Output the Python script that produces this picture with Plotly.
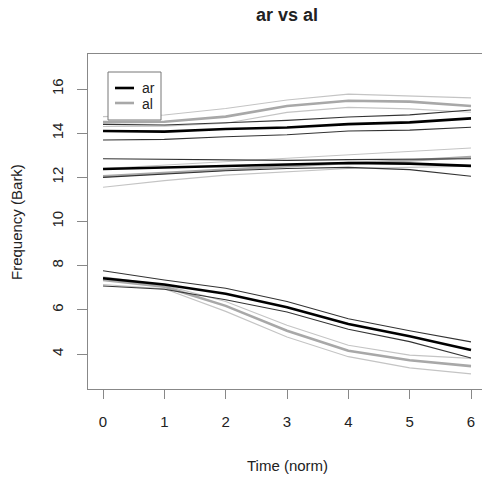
import plotly.graph_objects as go

# ---- data ----
time_norm = [0, 1, 2, 3, 4, 5, 6]

# ar (black): formant tracks, mean and upper/lower bands
ar_f1_mean = [7.43, 7.15, 6.73, 6.12, 5.36, 4.80, 4.18]
ar_f1_up = [7.77, 7.35, 6.98, 6.38, 5.60, 5.05, 4.55]
ar_f1_lo = [7.08, 6.93, 6.46, 5.90, 5.12, 4.56, 3.82]
ar_f2_mean = [12.38, 12.45, 12.52, 12.60, 12.65, 12.62, 12.52]
ar_f2_up = [12.84, 12.81, 12.78, 12.77, 12.80, 12.82, 12.84]
ar_f2_lo = [12.00, 12.15, 12.30, 12.40, 12.45, 12.35, 12.05]
ar_f3_mean = [14.10, 14.07, 14.19, 14.26, 14.41, 14.49, 14.67]
ar_f3_up = [14.40, 14.37, 14.47, 14.58, 14.73, 14.83, 15.05]
ar_f3_lo = [13.69, 13.72, 13.84, 13.93, 14.10, 14.14, 14.27]

# al (grey)
al_f1_mean = [7.35, 7.05, 6.18, 5.05, 4.15, 3.72, 3.45]
al_f1_up = [7.50, 7.12, 6.38, 5.30, 4.40, 3.95, 3.80]
al_f1_lo = [7.15, 6.95, 5.93, 4.77, 3.88, 3.37, 3.10]
al_f2_mean = [12.05, 12.20, 12.35, 12.50, 12.65, 12.76, 12.92]
al_f2_up = [12.40, 12.55, 12.70, 12.85, 13.00, 13.15, 13.33]
al_f2_lo = [11.55, 11.85, 12.10, 12.25, 12.40, 12.45, 12.50]
al_f3_mean = [14.50, 14.52, 14.75, 15.23, 15.47, 15.43, 15.23]
al_f3_up = [14.75, 14.82, 15.12, 15.50, 15.77, 15.70, 15.60]
al_f3_lo = [14.30, 14.32, 14.45, 14.94, 15.17, 15.10, 14.95]

x_ticks = [0, 1, 2, 3, 4, 5, 6]
y_ticks = [4, 6, 8, 10, 12, 14, 16]

FONT = "Liberation Sans, Arial, Helvetica, sans-serif"
W, H = 482, 481
# plot area in pixels: left 88, top 54, bottom 389, right edge just beyond the window
ML, MT, MR = 88, 54, 0
MB = H - 389

fig = go.Figure()

def add(y, color, width):
    fig.add_trace(go.Scatter(x=time_norm, y=y, mode="lines",
                             line=dict(color=color, width=width),
                             showlegend=False, hoverinfo="skip"))

# grey (al) first, black (ar) on top
for band in [al_f1_up, al_f1_lo, al_f2_up, al_f2_lo, al_f3_up, al_f3_lo]:
    add(band, "#c4c4c4", 1.1)
for m in [al_f1_mean, al_f2_mean, al_f3_mean]:
    add(m, "#a8a8a8", 2.6)
for band in [ar_f1_up, ar_f1_lo, ar_f2_up, ar_f2_lo, ar_f3_up, ar_f3_lo]:
    add(band, "#333333", 1.1)
for m in [ar_f1_mean, ar_f2_mean, ar_f3_mean]:
    add(m, "#000000", 2.6)

pw = W - ML - MR
ph = H - MT - MB

def px(xs):  # pixel x -> paper
    return (xs - ML) / pw

def py(ys):  # pixel y -> paper
    return (H - MB - ys) / ph

shapes = [
    # legend box
    dict(type="rect", xref="paper", yref="paper",
         x0=px(108), x1=px(161), y0=py(120), y1=py(72),
         line=dict(color="#777777", width=1), fillcolor="white"),
    dict(type="line", xref="paper", yref="paper",
         x0=px(115), x1=px(134), y0=py(88), y1=py(88),
         line=dict(color="#000000", width=2.6)),
    dict(type="line", xref="paper", yref="paper",
         x0=px(115), x1=px(134), y0=py(103), y1=py(103),
         line=dict(color="#a8a8a8", width=2.6)),
]

annotations = [
    dict(text="ar", xref="paper", yref="paper", x=px(140), y=py(87.5),
         xanchor="left", yanchor="middle", showarrow=False,
         font=dict(family=FONT, size=14, color="#222222")),
    dict(text="al", xref="paper", yref="paper", x=px(140), y=py(103.5),
         xanchor="left", yanchor="middle", showarrow=False,
         font=dict(family=FONT, size=14, color="#222222")),
    dict(text="<b>ar vs al</b>", xref="paper", yref="paper", x=px(287), y=py(15),
         xanchor="center", yanchor="middle", showarrow=False,
         font=dict(family=FONT, size=18, color="#222222")),
    dict(text="Time (norm)", xref="paper", yref="paper", x=px(287), y=py(465),
         xanchor="center", yanchor="middle", showarrow=False,
         font=dict(family=FONT, size=15, color="#222222")),
    dict(text="Frequency (Bark)", xref="paper", yref="paper", x=px(16), y=py(222),
         xanchor="center", yanchor="middle", showarrow=False, textangle=-90,
         font=dict(family=FONT, size=15, color="#222222")),
]

fig.update_layout(
    width=W, height=H,
    margin=dict(l=ML, r=MR, t=MT, b=MB, pad=0),
    paper_bgcolor="white", plot_bgcolor="white",
    shapes=shapes, annotations=annotations,
    showlegend=False,
    xaxis=dict(range=[-0.245, (482 - 103) / ((471 - 103) / 6)], tickvals=x_ticks,
               ticktext=[str(v) for v in x_ticks],
               showgrid=False, zeroline=False,
               showline=True, linecolor="#888888", linewidth=1, mirror=True,
               ticks="outside", ticklen=9, tickcolor="#888888", tickwidth=1,
               ticklabelstandoff=10,
               tickfont=dict(family=FONT, size=15, color="#222222")),
    yaxis=dict(range=[2.415, 17.585], tickvals=y_ticks,
               ticktext=[str(v) for v in y_ticks],
               showgrid=False, zeroline=False,
               showline=True, linecolor="#888888", linewidth=1, mirror=False,
               ticks="outside", ticklen=10, tickcolor="#888888", tickwidth=1,
               tickangle=-90, ticklabelstandoff=8,
               tickfont=dict(family=FONT, size=15, color="#222222")),
)

fig.write_html("out.html",
               config={"displayModeBar": False, "staticPlot": True},
               post_script="document.body.style.margin='0';"
                           "document.body.style.overflow='hidden';")
